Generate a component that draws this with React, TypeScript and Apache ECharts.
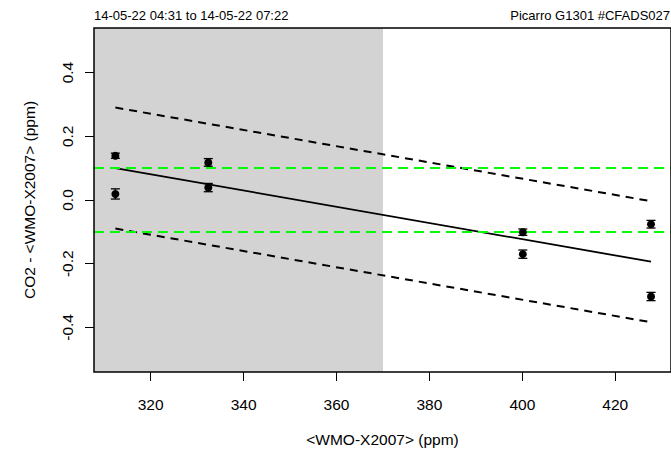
import React, { useEffect, useRef } from "react";
import * as echarts from "echarts";

// ---- data ----
const xRange = [307.8, 432.0];
const yRange = [-0.54, 0.54];
const shadeRange = [307.8, 370];
const xTicks = [320, 340, 360, 380, 400, 420];
const yTicks = [-0.4, -0.2, 0.0, 0.2, 0.4];
const refValues = [312.4, 312.4, 332.4, 332.4, 400.1, 400.1, 427.7, 427.7];
const diffValues = [0.139, 0.019, 0.118, 0.039, -0.101, -0.17, -0.076, -0.303];
const diffErrors = [0.008, 0.016, 0.012, 0.013, 0.01, 0.013, 0.012, 0.013];
const toleranceLines = [0.1, -0.1];
const bandHalfWidth = 0.19;
const leftTitle = "14-05-22 04:31 to 14-05-22 07:22";
const rightTitle = "Picarro G1301 #CFADS027";
const xName = "<WMO-X2007> (ppm)";
const yName = "CO2 - <WMO-X2007> (ppm)";

const FONT = "'Liberation Sans', Arial, Helvetica, sans-serif";

function linearFit(xs: number[], ys: number[]) {
  const n = xs.length;
  const mx = xs.reduce((a, b) => a + b, 0) / n;
  const my = ys.reduce((a, b) => a + b, 0) / n;
  let sxy = 0;
  let sxx = 0;
  for (let i = 0; i < n; i++) {
    sxy += (xs[i] - mx) * (ys[i] - my);
    sxx += (xs[i] - mx) * (xs[i] - mx);
  }
  const slope = sxy / sxx;
  const intercept = my - slope * mx;
  return (x: number) => intercept + slope * x;
}

export default function App() {
  const ref = useRef<HTMLDivElement>(null);

  useEffect(() => {
    if (!ref.current) return;
    const chart = echarts.init(ref.current, null, { renderer: "svg" });
    const fit = linearFit(refValues, diffValues);
    const x0 = Math.min(...refValues);
    const x1 = Math.max(...refValues);
    const fitLine = [
      [x0, fit(x0)],
      [x1, fit(x1)],
    ];
    const upper = fitLine.map((p) => [p[0], p[1] + bandHalfWidth]);
    const lower = fitLine.map((p) => [p[0], p[1] - bandHalfWidth]);

    const option: any = {
      animation: false,
      backgroundColor: "#ffffff",
      textStyle: { fontFamily: FONT },
      title: [
        {
          text: leftTitle,
          left: 94,
          top: 9,
          padding: 0,
          textStyle: { fontSize: 13, fontWeight: "normal", color: "#000", fontFamily: FONT },
        },
        {
          text: rightTitle,
          right: 1,
          top: 9,
          padding: 0,
          textStyle: { fontSize: 13, fontWeight: "normal", color: "#000", fontFamily: FONT },
        },
      ],
      grid: {
        left: 94,
        top: 28,
        right: 0,
        bottom: 82,
        show: true,
        z: 10,
        borderColor: "#000",
        borderWidth: 1.5,
        backgroundColor: "transparent",
      },
      xAxis: {
        type: "value",
        min: xRange[0],
        max: xRange[1],
        name: xName,
        nameLocation: "middle",
        nameGap: 59,
        nameTextStyle: { fontSize: 15.5, color: "#000", fontFamily: FONT },
        axisLine: { show: false, onZero: false },
        splitLine: { show: false },
        axisTick: {
          show: true,
          length: 9,
          inside: false,
          customValues: xTicks,
          lineStyle: { color: "#000", width: 1 },
        },
        axisLabel: {
          customValues: xTicks,
          margin: 24,
          fontSize: 15.5,
          color: "#000",
          fontFamily: FONT,
        },
      },
      yAxis: {
        type: "value",
        min: yRange[0],
        max: yRange[1],
        name: yName,
        nameLocation: "middle",
        nameGap: 57,
        nameRotate: 90,
        nameTextStyle: { fontSize: 15.5, color: "#000", fontFamily: FONT },
        axisLine: { show: false, onZero: false },
        splitLine: { show: false },
        axisTick: {
          show: true,
          length: 9,
          inside: false,
          customValues: yTicks,
          lineStyle: { color: "#000", width: 1 },
        },
        axisLabel: {
          customValues: yTicks,
          rotate: 90,
          margin: 19,
          fontSize: 15.5,
          color: "#000",
          fontFamily: FONT,
          formatter: (v: number) => v.toFixed(1),
        },
      },
      series: [
        {
          type: "line",
          data: [],
          z: 1,
          silent: true,
          markArea: {
            silent: true,
            itemStyle: { color: "#d3d3d3", opacity: 1 },
            data: [[{ xAxis: shadeRange[0] }, { xAxis: shadeRange[1] }]],
          },
        },
        {
          type: "line",
          data: [],
          z: 3,
          silent: true,
          markLine: {
            silent: true,
            symbol: ["none", "none"],
            label: { show: false },
            lineStyle: { color: "#00ff00", type: [10, 6], width: 2.2 },
            data: toleranceLines.map((v) => ({ yAxis: v })),
          },
        },
        {
          type: "line",
          data: fitLine,
          z: 4,
          symbol: "none",
          lineStyle: { color: "#000", width: 1.8 },
        },
        {
          type: "line",
          data: upper,
          z: 4,
          symbol: "none",
          lineStyle: { color: "#000", width: 2, type: [8, 6] },
        },
        {
          type: "line",
          data: lower,
          z: 4,
          symbol: "none",
          lineStyle: { color: "#000", width: 2, type: [8, 6] },
        },
        {
          type: "custom",
          z: 5,
          data: refValues.map((x, i) => [x, diffValues[i], diffErrors[i]]),
          renderItem: (params: any, api: any) => {
            const x = api.value(0);
            const y = api.value(1);
            const e = api.value(2);
            const t = api.coord([x, y + e]);
            const b = api.coord([x, y - e]);
            const hw = 4.5;
            const st = { stroke: "#000", lineWidth: 1.3 };
            return {
              type: "group",
              children: [
                { type: "line", shape: { x1: t[0], y1: t[1], x2: b[0], y2: b[1] }, style: st },
                { type: "line", shape: { x1: t[0] - hw, y1: t[1], x2: t[0] + hw, y2: t[1] }, style: st },
                { type: "line", shape: { x1: b[0] - hw, y1: b[1], x2: b[0] + hw, y2: b[1] }, style: st },
              ],
            };
          },
        },
        {
          type: "scatter",
          z: 6,
          data: refValues.map((x, i) => [x, diffValues[i]]),
          symbol: "circle",
          symbolSize: 8,
          itemStyle: { color: "#000", opacity: 1 },
        },
      ],
    };
    chart.setOption(option);
    return () => chart.dispose();
  }, []);

  return (
    <div
      ref={ref}
      style={{ position: "absolute", left: 0, top: 0, width: 671, height: 454 }}
    />
  );
}
